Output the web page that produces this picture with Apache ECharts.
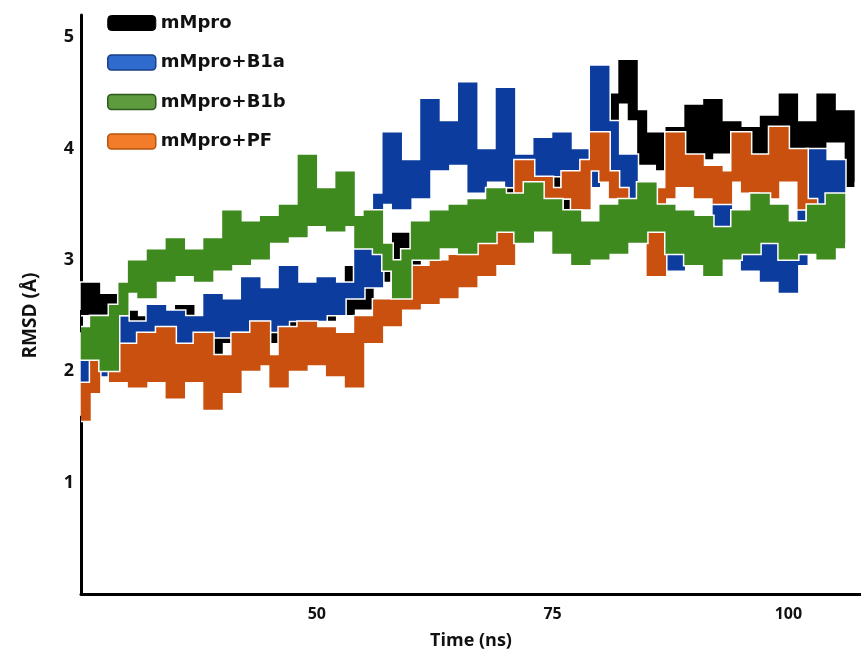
<!DOCTYPE html>
<html>
<head>
<meta charset="utf-8">
<script src="https://cdn.jsdelivr.net/npm/echarts@6/dist/echarts.min.js"></script>
<style>
  html, body { margin: 0; padding: 0; background: #fff; }
  #chart { width: 861px; height: 650px; }
</style>
</head>
<body>
<div id="chart"></div>
<script>
// RMSD over simulation time, one sample per ns
const timeNs = [25, 26, 27, 28, 29, 30, 31, 32, 33, 34, 35, 36, 37, 38, 39, 40, 41, 42, 43, 44,
  45, 46, 47, 48, 49, 50, 51, 52, 53, 54, 55, 56, 57, 58, 59, 60, 61, 62, 63, 64,
  65, 66, 67, 68, 69, 70, 71, 72, 73, 74, 75, 76, 77, 78, 79, 80, 81, 82, 83, 84,
  85, 86, 87, 88, 89, 90, 91, 92, 93, 94, 95, 96, 97, 98, 99, 100, 101, 102, 103, 104,
  105, 106, 107];

const rmsdApo = [2.55, 2.75, 2.45, 2.65, 2.3, 2.5, 2.2, 2.45, 2.25, 2.5, 2.3, 2.55, 2.2, 2.4, 2.15, 2.45, 2.3, 2.6, 2.35, 2.55,
  2.3, 2.6, 2.4, 2.65, 2.45, 2.7, 2.5, 2.75, 2.55, 2.9, 2.6, 2.9, 3.1, 2.85, 3.2, 3.0, 3.3, 3.1, 3.35, 3.15,
  3.4, 3.2, 3.45, 3.3, 3.55, 3.35, 3.6, 3.4, 3.65, 3.45, 3.7, 3.5, 3.75, 3.55, 3.8, 3.8, 4.1, 4.45, 4.75, 4.3,
  3.9, 4.1, 3.85, 4.15, 3.9, 4.35, 3.95, 4.4, 4.0, 4.2, 3.9, 4.15, 3.95, 4.25, 4.0, 4.45, 4.05, 4.2, 3.95, 4.45,
  4.1, 4.3, 3.7];

const rmsdB1a = [2.15, 1.95, 2.2, 2.0, 2.45, 2.1, 2.4, 2.2, 2.55, 2.25, 2.5, 2.2, 2.45, 2.35, 2.65, 2.35, 2.6, 2.4, 2.8, 2.5,
  2.7, 2.4, 2.9, 2.5, 2.75, 2.5, 2.8, 2.55, 2.75, 2.7, 3.1, 2.8, 3.55, 4.1, 3.5, 3.85, 3.6, 4.4, 3.85, 4.2,
  3.9, 4.55, 3.65, 3.95, 3.75, 4.5, 3.7, 3.9, 3.7, 4.05, 3.8, 4.1, 3.6, 3.95, 3.7, 4.7, 4.2, 3.6, 3.9, 3.55,
  3.3, 3.0, 3.25, 2.95, 3.2, 3.0, 3.3, 3.05, 3.5, 3.1, 3.4, 2.95, 3.2, 2.85, 3.1, 2.75, 3.0, 3.6, 3.95, 3.5,
  3.85, 3.5];

const rmsdB1b = [2.35, 2.15, 2.45, 2.05, 2.55, 2.75, 2.95, 2.7, 3.05, 2.85, 3.15, 2.9, 3.05, 2.85, 3.15, 2.95, 3.4, 3.0, 3.3, 3.05,
  3.35, 3.2, 3.45, 3.25, 3.9, 3.35, 3.6, 3.3, 3.75, 3.35, 3.15, 3.4, 3.1, 2.95, 2.7, 3.05, 3.3, 3.05, 3.4, 3.15,
  3.45, 3.1, 3.5, 3.2, 3.6, 3.3, 3.55, 3.2, 3.65, 3.3, 3.5, 3.1, 3.4, 3.0, 3.3, 3.05, 3.45, 3.1, 3.5, 3.2,
  3.65, 3.3, 3.45, 3.1, 3.4, 3.0, 3.35, 2.9, 3.25, 3.05, 3.4, 3.1, 3.55, 3.2, 3.45, 3.05, 3.3, 3.1, 3.45, 3.05,
  3.55, 3.15];

const rmsdPF = [1.6, 1.85, 2.45, 2.1, 1.95, 2.2, 1.9, 2.3, 1.95, 2.35, 1.8, 2.2, 1.95, 2.3, 1.7, 2.1, 1.85, 2.3, 2.05, 2.4,
  2.1, 1.9, 2.35, 2.05, 2.4, 2.1, 2.35, 2.0, 2.3, 1.9, 2.45, 2.3, 2.6, 2.45, 2.85, 2.6, 2.9, 2.65, 2.95, 2.7,
  3.0, 2.8, 3.15, 2.9, 3.3, 3.0, 3.25, 3.85, 3.45, 3.7, 3.45, 3.6, 3.75, 3.5, 3.85, 4.1, 3.75, 3.6, 3.4, 3.3,
  3.45, 2.9, 3.6, 4.1, 3.7, 3.9, 3.6, 3.8, 3.55, 3.75, 4.1, 3.65, 3.9, 3.6, 4.15, 3.75, 3.95, 3.5, 3.3];

const seriesNames = ["mMpro", "mMpro+B1a", "mMpro+B1b", "mMpro+PF"];
const xTickLabels = [50, 75, 100];
const yTickLabels = [1, 2, 3, 4, 5];

const pairs = (vals) => vals.map((v, i) => [timeNs[i], v]);

const chart = echarts.init(document.getElementById("chart"));

// each trace: a white halo underneath, then the coloured step line
const traceLines = (name, vals, color, z) => [
  {
    name: name + "-halo",
    type: "line",
    step: "middle",
    symbol: "none",
    silent: true,
    z: z,
    data: pairs(vals),
    lineStyle: { color: "#ffffff", width: 13, join: "miter", cap: "butt" }
  },
  {
    name: name,
    type: "line",
    step: "middle",
    symbol: "none",
    z: z + 1,
    data: pairs(vals),
    itemStyle: { color: color },
    lineStyle: { color: color, width: 10, join: "miter", cap: "butt" }
  }
];

const font = "'Open Sans', 'DejaVu Sans', sans-serif";

chart.setOption({
  backgroundColor: "#fff",
  animation: false,
  grid: { left: 81, right: 0, top: 15, bottom: 56, outerBoundsMode: "none" },
  legend: {
    orient: "vertical",
    left: 102,
    top: 8,
    icon: "roundRect",
    itemWidth: 48,
    itemHeight: 15,
    itemGap: 19.5,
    textStyle: { fontFamily: "'DejaVu Sans', sans-serif", fontWeight: "bold", fontSize: 18, color: "#111", lineHeight: 20 },
    data: [
      { name: seriesNames[0], itemStyle: { color: "#000000", borderColor: "#000", borderWidth: 1 } },
      { name: seriesNames[1], itemStyle: { color: "#2f6bcc", borderColor: "#1b3f88", borderWidth: 1.5 } },
      { name: seriesNames[2], itemStyle: { color: "#5e9b3e", borderColor: "#2e5a1e", borderWidth: 1.5 } },
      { name: seriesNames[3], itemStyle: { color: "#f27c2a", borderColor: "#b5540f", borderWidth: 1.5 } }
    ]
  },
  xAxis: {
    type: "value",
    min: 25,
    max: 107.7,
    interval: 25,
    name: "Time (ns)",
    nameLocation: "middle",
    nameGap: 38,
    nameTextStyle: { fontFamily: font, fontWeight: "bold", fontSize: 18, color: "#111" },
    axisLine: { show: true, onZero: false, lineStyle: { color: "#000", width: 3 } },
    axisTick: { show: false },
    splitLine: { show: false },
    axisLabel: {
      margin: 12,
      fontFamily: font,
      fontWeight: "bold",
      fontSize: 16,
      color: "#111",
      formatter: (v) => (xTickLabels.includes(v) ? String(v) : "")
    }
  },
  yAxis: {
    type: "value",
    min: 0,
    max: 5.2,
    interval: 1,
    name: "RMSD (Å)",
    nameLocation: "middle",
    nameGap: 41,
    nameTextStyle: { fontFamily: font, fontWeight: "bold", fontSize: 19, color: "#111", padding: [0, 22, 0, 0] },
    axisLine: { show: true, lineStyle: { color: "#000", width: 3 } },
    axisTick: { show: false },
    splitLine: { show: false },
    axisLabel: {
      margin: 7,
      fontFamily: font,
      fontWeight: "bold",
      fontSize: 18,
      color: "#111",
      formatter: (v) => (yTickLabels.includes(v) ? String(v) : "")
    }
  },
  series: [
    ...traceLines(seriesNames[0], rmsdApo, "#000000", 2),
    ...traceLines(seriesNames[1], rmsdB1a, "#0b3c9e", 4),
    ...traceLines(seriesNames[3], rmsdPF, "#c9500e", 6),
    ...traceLines(seriesNames[2], rmsdB1b, "#3f8a1f", 8)
  ]
});
</script>
</body>
</html>
